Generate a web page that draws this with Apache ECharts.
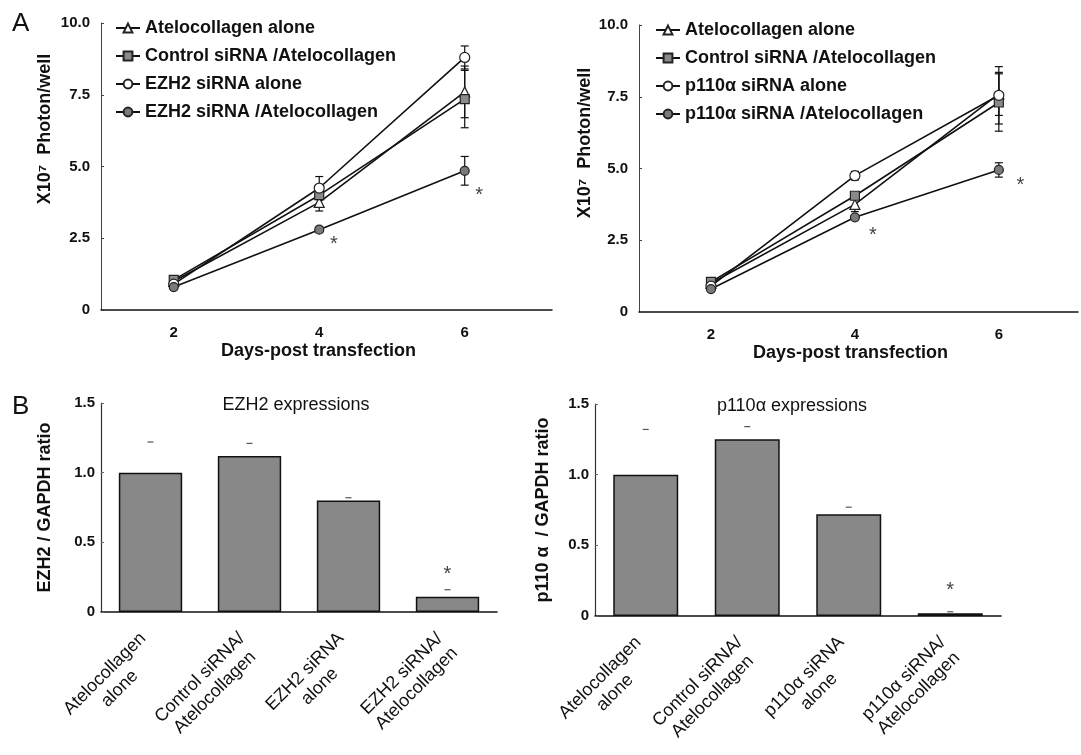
<!DOCTYPE html>
<html>
<head>
<meta charset="utf-8">
<script src="https://cdn.jsdelivr.net/npm/echarts@6/dist/echarts.min.js"></script>
</head>
<body style="margin:0;background:#fff">
<div id="main" style="width:1081px;height:755px;"></div>
<script>
// A: photon counts (x10^7 / well), days after transfection
var days = [2, 4, 6];
var ateloA = [1.0, 3.75, 7.6],   ateloAErr = [0.1, 0.3, 0.9];
var ctrlA = [1.05, 4.0, 7.35],   ctrlAErr = [0.1, 0.15, 1.0];
var ezhAlone = [0.9, 4.25, 8.8], ezhAloneErr = [0.1, 0.4, 0.4];
var ezhAtelo = [0.8, 2.8, 4.85], ezhAteloErr = [0.08, 0.1, 0.5];
var starsA = [[4.2, 2.3], [6.2, 4.0]];

var ateloB = [1.0, 3.75, 7.6],   ateloBErr = [0.1, 0.25, 0.75];
var ctrlB = [1.05, 4.05, 7.3],   ctrlBErr = [0.1, 0.1, 1.0];
var pAlone = [0.9, 4.75, 7.55],  pAloneErr = [0.1, 0.15, 1.0];
var pAtelo = [0.8, 3.3, 4.95],   pAteloErr = [0.05, 0.05, 0.25];
var starsB = [[4.25, 2.65], [6.3, 4.4]];

// B: expression ratios
var catsEzh = ['Atelocollagen\nalone', 'Control siRNA/\nAtelocollagen', 'EZH2 siRNA\nalone', 'EZH2 siRNA/\nAtelocollagen'];
var ezhRatio = [1.0, 1.12, 0.8, 0.11];
var ezhCap = [1.22, 1.21, 0.82, 0.16];
var ezhStar = [[3, 0.27]];

var catsP = ['Atelocollagen\nalone', 'Control siRNA/\nAtelocollagen', 'p110\u03b1 siRNA\nalone', 'p110\u03b1 siRNA/\nAtelocollagen'];
var pRatio = [1.0, 1.25, 0.72, 0.02];
var pCap = [1.32, 1.34, 0.77, 0.03];
var pStar = [[3, 0.18]];

var FONT = 'Liberation Sans';
var INK = '#111';

var myChart = echarts.init(document.getElementById('main'));

function pts(vals) {
    return days.map(function (d, i) { return [d, vals[i]]; });
}

function lineSeries(name, idx, vals, symbol, fill, size) {
    return {
        name: name,
        type: 'line',
        xAxisIndex: idx,
        yAxisIndex: idx,
        data: pts(vals),
        symbol: symbol,
        symbolSize: size,
        z: 3,
        lineStyle: { color: INK, width: 1.6 },
        itemStyle: { color: fill, borderColor: '#222', borderWidth: 1.2 }
    };
}

// vertical error bars with caps
function errSeries(idx, vals, errs) {
    var data = days.map(function (d, i) { return [d, vals[i], errs[i]]; });
    return {
        type: 'custom',
        xAxisIndex: idx,
        yAxisIndex: idx,
        data: data,
        z: 2,
        silent: true,
        renderItem: function (params, api) {
            var x = api.value(0), y = api.value(1), e = api.value(2);
            var hi = api.coord([x, y + e]), lo = api.coord([x, y - e]);
            var w = 4;
            var st = { stroke: INK, lineWidth: 1.2 };
            return {
                type: 'group', children: [
                    { type: 'line', shape: { x1: hi[0], y1: hi[1], x2: lo[0], y2: lo[1] }, style: st },
                    { type: 'line', shape: { x1: hi[0] - w, y1: hi[1], x2: hi[0] + w, y2: hi[1] }, style: st },
                    { type: 'line', shape: { x1: lo[0] - w, y1: lo[1], x2: lo[0] + w, y2: lo[1] }, style: st }
                ]
            };
        }
    };
}

function starSeries(idx, data) {
    return {
        type: 'custom',
        xAxisIndex: idx,
        yAxisIndex: idx,
        data: data,
        z: 4,
        silent: true,
        renderItem: function (params, api) {
            var c = api.coord([api.value(0), api.value(1)]);
            return {
                type: 'text', x: c[0], y: c[1],
                style: { text: '*', font: '20px ' + FONT, fill: '#444', align: 'center', verticalAlign: 'middle' }
            };
        }
    };
}

// short dash marking the top of the error bar above each bar
function capSeries(idx, caps) {
    return {
        type: 'custom',
        xAxisIndex: idx,
        yAxisIndex: idx,
        data: caps.map(function (v, i) { return [i, v]; }),
        z: 4,
        silent: true,
        renderItem: function (params, api) {
            var c = api.coord([api.value(0), api.value(1)]);
            return {
                type: 'line', shape: { x1: c[0] - 3, y1: c[1], x2: c[0] + 3, y2: c[1] },
                style: { stroke: '#555', lineWidth: 1.2 }
            };
        }
    };
}

function fmt(v) { return v === 0 ? '0' : v.toFixed(1); }

var tickLabel = { fontSize: 15, fontWeight: 'bold', color: INK, fontFamily: FONT };
var nameStyle = { fontSize: 18, fontWeight: 'bold', color: INK, fontFamily: FONT };

function daysAxis(idx, max) {
    return {
        gridIndex: idx, type: 'value', min: 1, max: max, interval: 1,
        axisLine: { lineStyle: { color: INK, width: 1.5 } },
        axisTick: { show: false },
        splitLine: { show: false },
        axisLabel: Object.assign({ margin: 15, formatter: function (v) { return v % 2 === 0 ? v : ''; } }, tickLabel),
        name: 'Days-post transfection',
        nameLocation: 'middle',
        nameGap: 32,
        nameTextStyle: Object.assign({ padding: [0, 16, 0, 0] }, nameStyle)
    };
}

function photonAxis(idx) {
    return {
        gridIndex: idx, type: 'value', min: 0, max: 10, interval: 2.5,
        axisLine: { show: true, lineStyle: { color: '#444', width: 1 } },
        axisTick: { show: true, inside: true, length: 3, lineStyle: { color: '#444' } },
        splitLine: { show: false },
        axisLabel: Object.assign({ margin: 11, formatter: fmt }, tickLabel)
    };
}

function catAxis(idx, cats) {
    return {
        gridIndex: idx, type: 'category', data: cats,
        axisLine: { lineStyle: { color: INK, width: 1.5 } },
        axisTick: { show: false },
        axisLabel: {
            interval: 0, rotate: 45, margin: 31,
            formatter: function (v) {
                return v.split('\n').map(function (s) { return '{c|' + s + '}'; }).join('\n');
            },
            rich: { c: { align: 'center', fontSize: 18, color: INK, fontFamily: FONT, lineHeight: 21 } }
        }
    };
}

function ratioAxis(idx, name, gap) {
    return {
        gridIndex: idx, type: 'value', min: 0, max: 1.5, interval: 0.5,
        axisLine: { show: true, lineStyle: { color: '#333', width: 1.2 } },
        axisTick: { show: true, inside: true, length: 3, lineStyle: { color: '#666' } },
        splitLine: { show: false },
        axisLabel: Object.assign({ margin: 6, formatter: fmt }, tickLabel),
        name: name,
        nameLocation: 'middle',
        nameGap: gap,
        nameTextStyle: nameStyle
    };
}

function barSeries(idx, vals) {
    return {
        type: 'bar', xAxisIndex: idx, yAxisIndex: idx, data: vals,
        barWidth: '64%',
        itemStyle: { color: '#888', borderColor: INK, borderWidth: 1.5 },
        silent: true
    };
}

var legendText = { fontSize: 18, fontWeight: 'bold', color: INK, fontFamily: FONT, lineHeight: 18 };

var option = {
    animation: false,
    backgroundColor: '#fff',
    textStyle: { fontFamily: FONT },
    grid: [
        { left: 101, top: 23, width: 451, height: 287 },
        { left: 639, top: 25, width: 442, height: 287 },
        { left: 101, top: 403, width: 396, height: 209 },
        { left: 595, top: 404, width: 406, height: 212 }
    ],
    title: [
        { text: 'EZH2 expressions', left: 291, top: 391, textAlign: 'center',
          textStyle: { fontSize: 18, fontWeight: 'normal', color: INK, fontFamily: FONT } },
        { text: 'p110\u03b1 expressions', left: 787, top: 392, textAlign: 'center',
          textStyle: { fontSize: 18, fontWeight: 'normal', color: INK, fontFamily: FONT } }
    ],
    legend: [
        { orient: 'vertical', left: 110, top: 14, itemWidth: 24, itemHeight: 11, itemGap: 10,
          textStyle: legendText,
          data: ['Atelocollagen alone', 'Control siRNA /Atelocollagen', 'EZH2 siRNA alone', 'EZH2 siRNA /Atelocollagen'] },
        { orient: 'vertical', left: 650, top: 16, itemWidth: 24, itemHeight: 11, itemGap: 10,
          textStyle: legendText,
          data: ['Atelocollagen alone ', 'Control siRNA /Atelocollagen ', 'p110\u03b1 siRNA alone', 'p110\u03b1 siRNA /Atelocollagen'] }
    ],
    xAxis: [daysAxis(0, 7.2), daysAxis(1, 7.1), catAxis(2, catsEzh), catAxis(3, catsP)],
    yAxis: [photonAxis(0), photonAxis(1),
            ratioAxis(2, 'EZH2 / GAPDH ratio', 47), ratioAxis(3, 'p110 \u03b1  / GAPDH ratio', 43)],
    graphic: [
        { type: 'text', left: 12, top: 11, style: { text: 'A', font: '26px ' + FONT, fill: INK } },
        { type: 'text', left: 12, top: 394, style: { text: 'B', font: '26px ' + FONT, fill: INK } },
        { type: 'text', x: 45, y: 129, rotation: Math.PI / 2,
          style: { text: 'X10\u2077  Photon/well', font: 'bold 18px ' + FONT, fill: INK, align: 'center', verticalAlign: 'middle' } },
        { type: 'text', x: 585, y: 143, rotation: Math.PI / 2,
          style: { text: 'X10\u2077  Photon/well', font: 'bold 18px ' + FONT, fill: INK, align: 'center', verticalAlign: 'middle' } }
    ],
    series: [
        errSeries(0, ateloA, ateloAErr),
        errSeries(0, ctrlA, ctrlAErr),
        errSeries(0, ezhAlone, ezhAloneErr),
        errSeries(0, ezhAtelo, ezhAteloErr),
        lineSeries('Atelocollagen alone', 0, ateloA, 'triangle', '#fff', 10),
        lineSeries('Control siRNA /Atelocollagen', 0, ctrlA, 'rect', '#8a8a8a', 9),
        lineSeries('EZH2 siRNA alone', 0, ezhAlone, 'circle', '#fff', 10),
        lineSeries('EZH2 siRNA /Atelocollagen', 0, ezhAtelo, 'circle', '#7a7a7a', 9),
        starSeries(0, starsA),

        errSeries(1, ateloB, ateloBErr),
        errSeries(1, ctrlB, ctrlBErr),
        errSeries(1, pAlone, pAloneErr),
        errSeries(1, pAtelo, pAteloErr),
        lineSeries('Atelocollagen alone ', 1, ateloB, 'triangle', '#fff', 10),
        lineSeries('Control siRNA /Atelocollagen ', 1, ctrlB, 'rect', '#8a8a8a', 9),
        lineSeries('p110\u03b1 siRNA alone', 1, pAlone, 'circle', '#fff', 10),
        lineSeries('p110\u03b1 siRNA /Atelocollagen', 1, pAtelo, 'circle', '#7a7a7a', 9),
        starSeries(1, starsB),

        barSeries(2, ezhRatio),
        capSeries(2, ezhCap),
        starSeries(2, ezhStar),
        barSeries(3, pRatio),
        capSeries(3, pCap),
        starSeries(3, pStar)
    ]
};

myChart.setOption(option);
</script>
</body>
</html>
